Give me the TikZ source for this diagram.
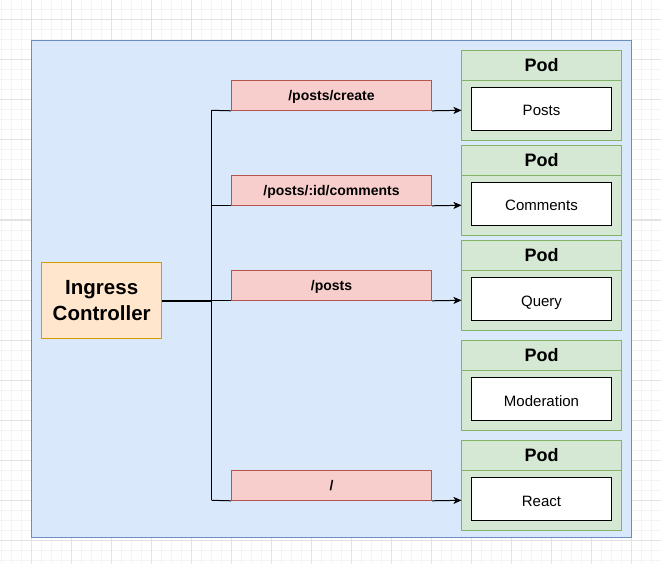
\documentclass[tikz,border=0pt]{standalone}
\usepackage{fontspec}
\setmainfont{Liberation Sans}
\usetikzlibrary{arrows.meta,positioning}

\definecolor{gridmajor}{HTML}{E3E3E3}
\definecolor{gridminor}{HTML}{F4F4F4}
\definecolor{clusterfill}{HTML}{DAE8FC}
\definecolor{clusterline}{HTML}{6C8EBF}
\definecolor{ingfill}{HTML}{FFE6CC}
\definecolor{ingline}{HTML}{D79B00}
\definecolor{routefill}{HTML}{F8CECC}
\definecolor{routeline}{HTML}{B85450}
\definecolor{podfill}{HTML}{D5E8D4}
\definecolor{podline}{HTML}{82B366}

\tikzset{
  ingress/.style={draw=ingline,fill=ingfill,line width=1pt,minimum width=120pt,minimum height=76pt,
    inner sep=0pt,align=center,font=\fontsize{20.5}{26}\selectfont\bfseries},
  route/.style={draw=routeline,fill=routefill,line width=1pt,minimum width=200pt,minimum height=30pt,
    inner sep=0pt,text height=12.7pt,text depth=3pt,font=\fontsize{14}{16}\selectfont\bfseries},
  podhead/.style={draw=podline,fill=podfill,line width=1pt,minimum width=160pt,minimum height=30pt,
    inner sep=0pt,outer sep=0pt,text height=16.3pt,text depth=3.8pt,font=\fontsize{18}{20}\selectfont\bfseries},
  podbody/.style={draw=podline,fill=podfill,line width=1pt,minimum width=160pt,minimum height=60pt,
    inner sep=0pt,outer sep=0pt},
  service/.style={draw=black,fill=white,line width=1pt,minimum width=140pt,minimum height=43pt,
    inner sep=0pt,text height=15.6pt,text depth=1.2pt,font=\fontsize{15}{17}\selectfont},
  wire/.style={black,line width=1pt},
  arr/.style={wire,-{Stealth[length=8pt,width=7pt,inset=2pt]}}
}

\begin{document}
\begin{tikzpicture}[x=1pt,y=-1pt]
\useasboundingbox (0,0) rectangle (661,564);
\fill[white] (0,0) rectangle (661,564);
% background grid
\foreach \gx in {1.7,11.7,...,661} \draw[gridminor,line width=1pt] (\gx,0) -- (\gx,564);
\foreach \gy in {10,20,...,564} \draw[gridminor,line width=1pt] (0,\gy) -- (661,\gy);
\foreach \gx in {31.7,71.7,...,661} \draw[gridmajor,line width=1pt] (\gx,0) -- (\gx,564);
\foreach \gy in {20,60,...,564} \draw[gridmajor,line width=1pt] (0,\gy) -- (661,\gy);

% cluster
\draw[clusterline,fill=clusterfill,line width=1pt] (31.7,40.3) rectangle (631.7,537.3);

\node[ingress] (ingress) at (101.7,300.5) {Ingress\\Controller};

% pods
\foreach \name/\svc/\top in {posts/Posts/50.3,comments/Comments/145.3,query/Query/240.3,moderation/Moderation/340.3,react/React/440.3}{
  \node[podhead] (\name h) at (541.5,\top+15) {Pod};
  \node[podbody,below=0pt of \name h] (\name) {};
  \node[service] (\name s) at ([yshift=1.5pt]\name.center) {\svc};
}

% routes
\node[route] (rcreate) at (331.5,95.3) {/posts/create};
\node[route] (rcomments) at (331.5,190.3) {/posts/:id/comments};
\node[route] (rquery) at (331.5,285.3) {/posts};
\node[route] (rreact) at (331.5,485.3) {/};

\coordinate (trunktop) at (211.7,110.3);
\coordinate (trunkbot) at (211.7,500.3);
\coordinate (junction) at (211.7,300.5);

\draw[wire] (trunktop) -- (trunkbot);
\draw[black,line width=2pt] (ingress.east) -- (junction);

\draw[wire] (trunktop) -- (rcreate.south west);
\draw[wire] (rcomments.south west -| trunktop) -- (rcomments.south west);
\draw[wire] (rquery.south west -| trunktop) -- (rquery.south west);
\draw[wire] (trunkbot) -- (rreact.south west);

\draw[arr] (rcreate.south east) -- (posts.west);
\draw[arr] (rcomments.south east) -- (comments.west);
\draw[arr] (rquery.south east) -- (query.west);
\draw[arr] (rreact.south east) -- (react.west);
\end{tikzpicture}
\end{document}
